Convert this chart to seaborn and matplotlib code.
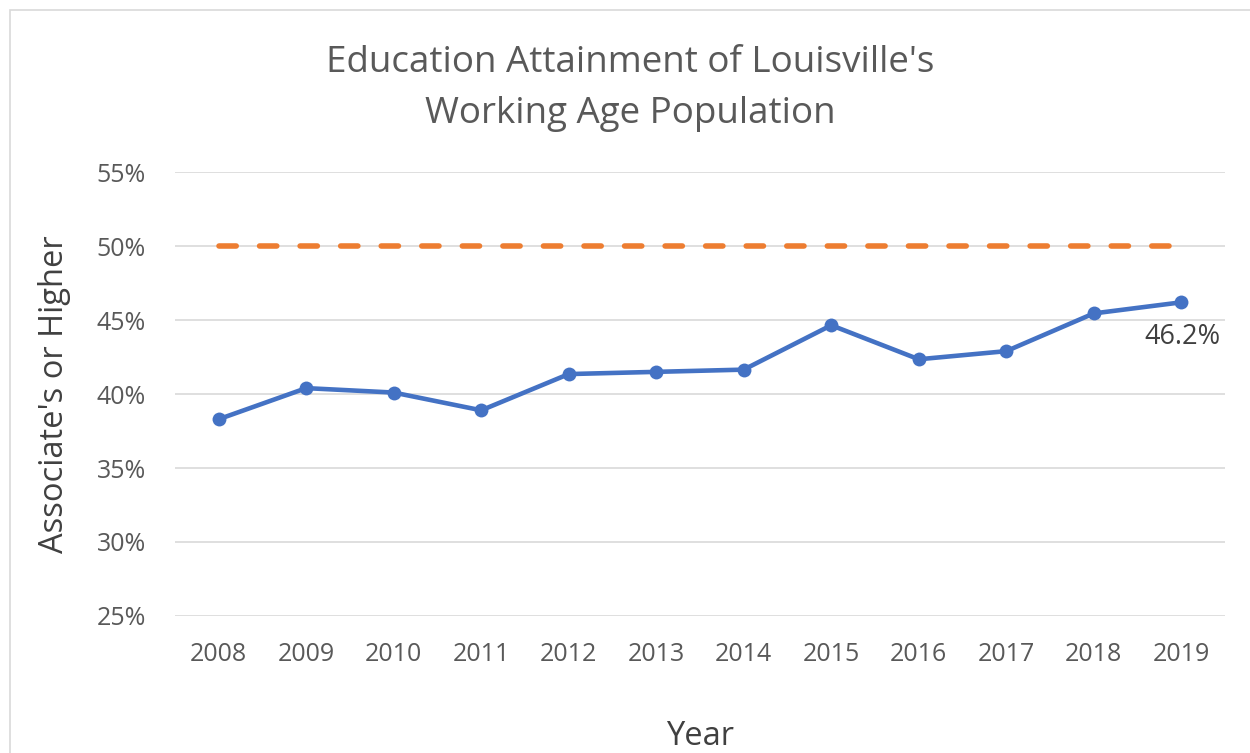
import matplotlib
matplotlib.use("Agg")
import matplotlib.pyplot as plt
import seaborn as sns
import pandas as pd
from matplotlib.patches import Rectangle

# Datos
years = ['2008', '2009', '2010', '2011', '2012', '2013',
         '2014', '2015', '2016', '2017', '2018', '2019']
attainment = [38.3, 40.4, 40.1, 38.9, 41.35, 41.5,
              41.65, 44.65, 42.35, 42.9, 45.45, 46.2]
goal = [50] * len(years)
y_ticks = [25, 30, 35, 40, 45, 50, 55]

df = pd.DataFrame({'Year': years, 'Attainment': attainment, 'Goal': goal})

sns.set_theme(style='white')
plt.rcParams['font.family'] = ['Open Sans', 'DejaVu Sans']

fig = plt.figure(figsize=(12.5, 7.53), dpi=100)
ax = fig.add_axes([0.14, 0.182, 0.84, 0.5894])

sns.lineplot(data=df, x='Year', y='Goal', ax=ax, color='#ED7D31',
             linewidth=4, dashes=False, sort=False)
meta = ax.lines[-1]
meta.set_dashes([3.1, 4.2])
meta.set_dash_capstyle('round')
sns.lineplot(data=df, x='Year', y='Attainment', ax=ax, color='#4472C4',
             linewidth=3.3, marker='o', markersize=10, markeredgewidth=0,
             sort=False)

ax.set_xlim(-0.5, len(years) - 0.5)
ax.set_ylim(25, 55)
ax.set_yticks(y_ticks)
ax.set_yticklabels([f'{t}%' for t in y_ticks])
ax.yaxis.grid(True, color='#D9D9D9', linewidth=1.2)
ax.set_axisbelow(True)
for s in ax.spines.values():
    s.set_visible(False)
ax.tick_params(axis='both', length=0, labelsize=18, colors='#595959')
ax.tick_params(axis='x', pad=19)
ax.tick_params(axis='y', pad=21)

ax.set_xlabel('Year', fontsize=23.5, color='#404040', labelpad=38)
ax.set_ylabel("Associate's or Higher", fontsize=23.5, color='#404040', labelpad=18)

last = len(years) - 1
ax.annotate(f'{attainment[last]}%', (last, attainment[last]), xytext=(1, -25),
            textcoords='offset points', ha='center', va='center',
            fontsize=19.5, color='#404040')

fig.text(0.504, 0.883, "Education Attainment of Louisville's\nWorking Age Population",
         ha='center', va='center', fontsize=26.5, color='#595959', linespacing=1.55)

fig.patches.append(Rectangle((0.008, -0.01), 1.0, 0.997, transform=fig.transFigure,
                             fill=False, edgecolor='#D9D9D9', linewidth=1.2))

fig.savefig('out.png', dpi=100)
